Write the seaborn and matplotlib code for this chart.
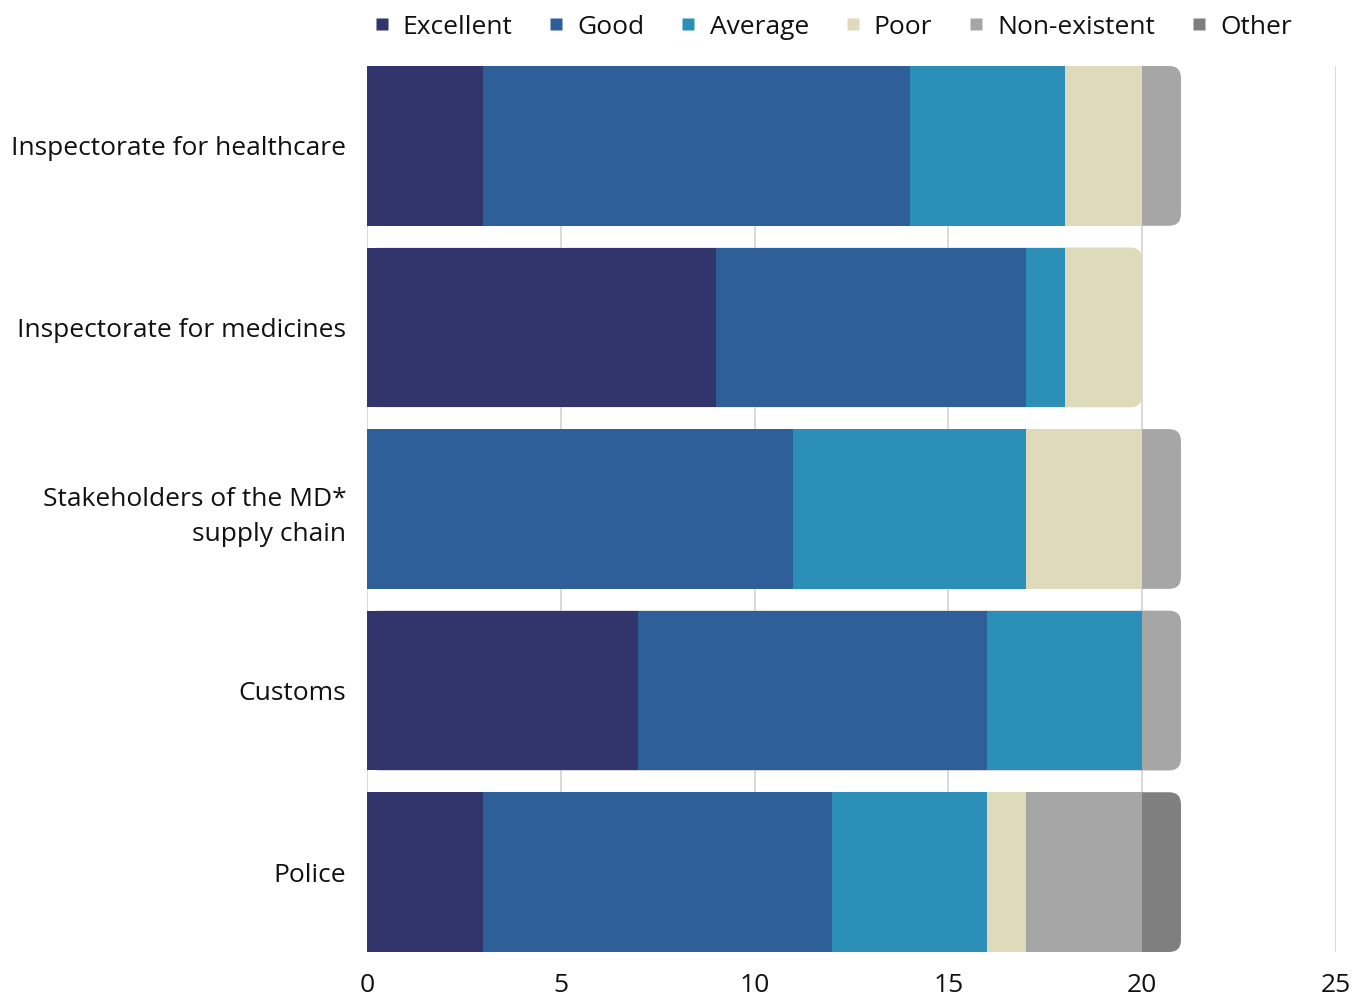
import numpy as np
import pandas as pd
import seaborn as sns
import matplotlib.pyplot as plt
from matplotlib.patches import FancyBboxPatch
from matplotlib.lines import Line2D

categories = [
    "Inspectorate for healthcare",
    "Inspectorate for medicines",
    "Stakeholders of the MD*\nsupply chain",
    "Customs",
    "Police",
]
series_names = ["Excellent", "Good", "Average", "Poor", "Non-existent", "Other"]
excellent = [3, 9, 0, 7, 3]
good = [11, 8, 11, 9, 9]
average = [4, 1, 6, 4, 4]
poor = [2, 2, 3, 0, 1]
non_existent = [1, 0, 1, 1, 3]
other = [0, 0, 0, 0, 1]
x_ticks = [0, 5, 10, 15, 20, 25]

colors = ["#31356b", "#2e5f98", "#2b8fb8", "#dedabb", "#a6a6a6", "#7f7f7f"]

sns.set_theme(style="white")
plt.rcParams["font.family"] = ["Open Sans", "DejaVu Sans"]

values = np.array([excellent, good, average, poor, non_existent, other], dtype=float)
cumulative = np.cumsum(values, axis=0)

fig = plt.figure(figsize=(13.68, 9.97), dpi=100)
ax = fig.add_axes([367 / 1368, 1 - 952 / 997, (1336 - 367) / 1368, (952 - 66) / 997])

bar_h = 0.88
# Stacked bars: draw cumulative totals from the outermost series inwards
layers = {}
for i in range(len(series_names) - 1, -1, -1):
    df = pd.DataFrame({"category": categories, "value": cumulative[i]})
    n_before = len(ax.patches)
    sns.barplot(data=df, y="category", x="value", color=colors[i],
                width=bar_h, orient="h", ax=ax, saturation=1, zorder=2,
                linewidth=0, edgecolor="none")
    layers[i] = ax.patches[n_before:]

ax.set_xlim(0, 25)
ax.set_ylim(len(categories) - 1 + bar_h / 2, -bar_h / 2)

# Round the right end of each bar: replace the outermost visible segment
fig.canvas.draw()
px_per_x = ax.transData.transform((1, 0))[0] - ax.transData.transform((0, 0))[0]
px_per_y = abs(ax.transData.transform((0, 0))[1] - ax.transData.transform((0, 1))[1])
radius_px = 12
for j in range(len(categories)):
    top = max(i for i in range(len(series_names)) if values[i, j] > 0)
    patch = layers[top][j]
    x0, y0 = patch.get_x(), patch.get_y()
    w, h = patch.get_width(), patch.get_height()
    for i in range(top, len(series_names)):
        layers[i][j].set_visible(False)
    r = radius_px / px_per_x
    ry = radius_px / px_per_y
    rounded = FancyBboxPatch((x0 + r, y0 + ry), w - 2 * r, h - 2 * ry,
                             boxstyle=f"round,pad={r},rounding_size={r}",
                             mutation_aspect=px_per_x / px_per_y,
                             facecolor=colors[top], edgecolor="none",
                             linewidth=0, zorder=1.9)
    ax.add_patch(rounded)

ax.set_xticks(x_ticks)
ax.xaxis.grid(True, color="#cfcfcf", linewidth=1.1, zorder=0)
ax.set_axisbelow(True)
ax.yaxis.grid(False)
for s in ax.spines.values():
    s.set_visible(False)
ax.set_xlabel("")
ax.set_ylabel("")
ax.tick_params(axis="x", length=0, pad=15, labelsize=19, labelcolor="#111111")
ax.tick_params(axis="y", length=0, pad=15, labelsize=19, labelcolor="#111111")
for lab in ax.get_yticklabels():
    lab.set_horizontalalignment("right")
    lab.set_multialignment("right")
    lab.set_linespacing(1.55)

handles = [Line2D([], [], marker="s", linestyle="none", markersize=9,
                  markerfacecolor=c, markeredgecolor="none") for c in colors]
fig.legend(handles, series_names, loc="center", bbox_to_anchor=(832 / 1368, 1 - 27 / 997),
           ncol=6, frameon=False, fontsize=19, handlelength=0.7, handletextpad=0.45,
           columnspacing=1.31, labelcolor="#111111")

fig.savefig("out.png", dpi=100)
